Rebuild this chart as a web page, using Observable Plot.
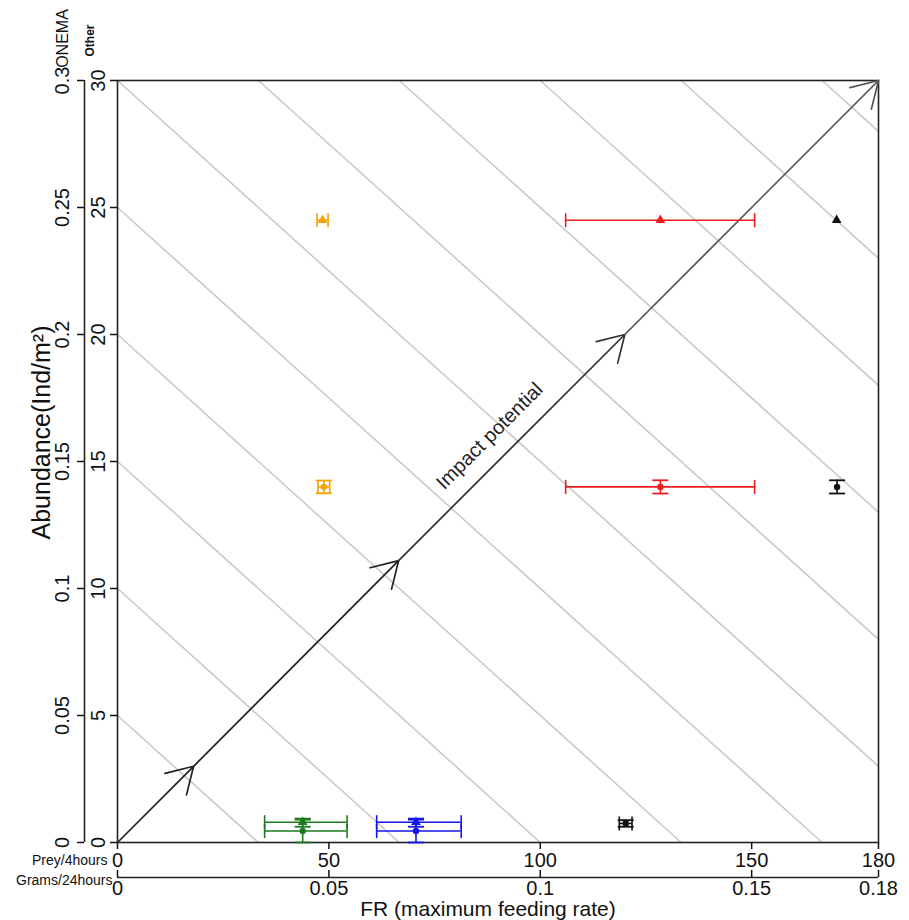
<!DOCTYPE html>
<html><head><meta charset="utf-8">
<script src="https://cdn.jsdelivr.net/npm/d3@7"></script>
<script src="https://cdn.jsdelivr.net/npm/@observablehq/plot@0.6"></script>
<style>body{margin:0;background:#fff}</style>
</head><body><div id="chart"></div>
<script>
// ---- axes / ticks ----
const frDomain = [0, 180];
const abDomain = [0, 30];
const frTicks = [0, 50, 100, 150, 180];
const gramTickLabels = ["0", "0.05", "0.1", "0.15", "0.18"];
const otherTicks = [0, 5, 10, 15, 20, 25, 30];
const onemaTickLabels = ["0", "0.05", "0.1", "0.15", "0.2", "0.25", "0.3"];

// ---- iso "impact" lines (gray diagonals): y = intercept + slope * x ----
const isoIntercepts = [5, 10, 15, 20, 25, 30, 35, 40, 45, 50, 55];
const isoSlope = -0.15;

// ---- impact potential arrow (vertices, arrowheads at each vertex) ----
const arrowFr = [0, 18, 66.5, 120, 180];
const arrowAb = [0, 3, 11.1, 20, 30];
const arrowColor = ["#222", "#222", "#333", "#555"];

// ---- data points ----
const pointFr     = [48.5, 48.8, 128.4, 128.4, 170.1, 170.2, 120.2, 43.8, 43.8, 70.6, 70.6];
const pointFrLow  = [47.2, 47.4, 106.0, 106.0, 170.1, 170.2, 118.7, 34.8, 34.8, 61.3, 61.3];
const pointFrHigh = [49.8, 50.2, 150.7, 150.7, 170.1, 170.2, 121.7, 54.3, 54.3, 81.3, 81.3];
const pointAb     = [24.5, 14.0, 24.5, 14.0, 24.5, 14.0, 0.75, 0.8, 0.45, 0.8, 0.45];
const pointAbLow  = [24.5, 13.75, 24.5, 13.74, 24.5, 13.74, 0.62, 0.62, 0.0, 0.62, 0.0];
const pointAbHigh = [24.5, 14.25, 24.5, 14.26, 24.5, 14.26, 0.88, 0.94, 0.9, 0.94, 0.9];
const pointColor  = ["#f5a300", "#f5a300", "#ee1c1c", "#ee1c1c", "#111", "#111", "#111", "#1d7a1d", "#1d7a1d", "#1515f0", "#1515f0"];
const pointShape  = ["triangle", "circle", "triangle", "circle", "triangle", "circle", "circle", "triangle", "circle", "triangle", "circle"];

// ---- text ----
const xTitle = "FR (maximum feeding rate)";
const yTitle = "Abundance(Ind/m\u00B2)";
const impactLabel = {fr: 88, ab: 16, text: "Impact potential"};

// build tables
const points = pointFr.map((x, i) => ({
  x, xlo: pointFrLow[i], xhi: pointFrHigh[i],
  y: pointAb[i], ylo: pointAbLow[i], yhi: pointAbHigh[i],
  color: pointColor[i], shape: pointShape[i]
}));
const isoLines = isoIntercepts.map(c => {
  const xs = Math.max(frDomain[0], (abDomain[1] - c) / isoSlope);
  const xe = Math.min(frDomain[1], (abDomain[0] - c) / isoSlope);
  return {x1: xs, y1: c + isoSlope * xs, x2: xe, y2: c + isoSlope * xe};
});
const arrowSegs = arrowFr.slice(1).map((x, i) => ({
  x1: arrowFr[i], y1: arrowAb[i], x2: x, y2: arrowAb[i + 1], color: arrowColor[i]
}));

// cap symbols
const vCap = {draw(ctx, size) { const h = Math.sqrt(size / Math.PI); ctx.moveTo(0, -h); ctx.lineTo(0, h); }};
const hCap = {draw(ctx, size) { const h = Math.sqrt(size / Math.PI); ctx.moveTo(-h, 0); ctx.lineTo(h, 0); }};

const hasX = d => d.xhi > d.xlo;
const hasY = d => d.yhi > d.ylo;

const chart = Plot.plot({
  width: 909,
  height: 920,
  marginLeft: 117,
  marginRight: 31,
  marginTop: 80,
  marginBottom: 78,
  x: {domain: frDomain, axis: null},
  y: {domain: abDomain, axis: null},
  style: {fontFamily: "'Liberation Sans Narrow', 'Liberation Sans', Arial, sans-serif", fontSize: "20px", color: "#111", background: "#fff"},
  marks: [
    Plot.link(isoLines, {x1: "x1", y1: "y1", x2: "x2", y2: "y2", stroke: "#c9c9c9", strokeWidth: 1.6}),
    Plot.frame({stroke: "#222", strokeWidth: 1.6}),
    Plot.arrow(arrowSegs, {x1: "x1", y1: "y1", x2: "x2", y2: "y2", stroke: "color", strokeWidth: 1.7, headLength: 26, headAngle: 62, bend: 0}),
    Plot.text([impactLabel], {x: "fr", y: "ab", text: "text", rotate: -45, fontSize: 20, fill: "#222", textAnchor: "middle", lineAnchor: "middle"}),
    // horizontal error bars
    Plot.ruleY(points, {filter: hasX, y: "y", x1: "xlo", x2: "xhi", stroke: "color", strokeWidth: 1.6}),
    Plot.dot(points, {filter: hasX, x: "xlo", y: "y", symbol: vCap, r: 7, stroke: "color", strokeWidth: 1.6}),
    Plot.dot(points, {filter: hasX, x: "xhi", y: "y", symbol: vCap, r: 7, stroke: "color", strokeWidth: 1.6}),
    // vertical error bars
    Plot.ruleX(points, {filter: hasY, x: "x", y1: "ylo", y2: "yhi", stroke: "color", strokeWidth: 1.6}),
    Plot.dot(points, {filter: hasY, x: "x", y: "ylo", symbol: hCap, r: 8, stroke: "color", strokeWidth: 1.8}),
    Plot.dot(points, {filter: hasY, x: "x", y: "yhi", symbol: hCap, r: 8, stroke: "color", strokeWidth: 1.8}),
    // markers
    Plot.dot(points, {filter: d => d.shape === "triangle", x: "x", y: "y", symbol: "triangle", r: 3.6, fill: "color"}),
    Plot.dot(points, {filter: d => d.shape === "circle", x: "x", y: "y", symbol: "circle", r: 3.2, fill: "color"}),
    // inner y axis (Other)
    Plot.axisY(otherTicks, {anchor: "left", tickSize: 7, tickPadding: 6, tickRotate: -90, strokeWidth: 1.5, label: null}),
    // outer y axis (ONEMA)
    Plot.ruleX(frDomain.slice(0, 1), {dx: -33, stroke: "#222", strokeWidth: 1.6}),
    Plot.axisY(otherTicks, {anchor: "left", dx: -33, tickSize: 7, tickPadding: 9, tickRotate: -90, strokeWidth: 1.5, label: null,
      tickFormat: d => onemaTickLabels[otherTicks.indexOf(d)]}),
    // inner x axis (Prey/4hours)
    Plot.axisX(frTicks, {anchor: "bottom", tickSize: 7, strokeWidth: 1.5, label: null}),
    // outer x axis (Grams/24hours)
    Plot.ruleY(abDomain.slice(0, 1), {dy: 35, stroke: "#222", strokeWidth: 1.6}),
    Plot.axisX(frTicks, {anchor: "bottom", dy: 35, tickSize: -7, tickPadding: 10, strokeWidth: 1.5, label: null,
      tickFormat: d => gramTickLabels[frTicks.indexOf(d)]}),
    // axis unit labels
    Plot.text(["Prey/4hours"], {frameAnchor: "bottom-left", dx: -10, dy: 18, textAnchor: "end", lineAnchor: "middle", fontSize: 14, fill: "#111"}),
    Plot.text(["Grams/24hours"], {frameAnchor: "bottom-left", dx: -5, dy: 38, textAnchor: "end", lineAnchor: "middle", fontSize: 14, fill: "#111"}),
    Plot.text(["ONEMA"], {frameAnchor: "top-left", dx: -55, dy: -42, rotate: -90, textAnchor: "middle", lineAnchor: "middle", fontSize: 16, fill: "#111"}),
    Plot.text(["Other"], {frameAnchor: "top-left", dx: -27, dy: -40, rotate: -90, textAnchor: "middle", lineAnchor: "middle", fontSize: 12, fontWeight: "bold", fill: "#111"}),
    // titles
    Plot.text([yTitle], {frameAnchor: "left", dx: -76, dy: -29, rotate: -90, textAnchor: "middle", lineAnchor: "middle", fontSize: 25, fill: "#111"}),
    Plot.text([xTitle], {frameAnchor: "bottom", dx: -10, dy: 67, textAnchor: "middle", lineAnchor: "middle", fontSize: 21, fill: "#111"})
  ]
});
document.getElementById("chart").appendChild(chart);
</script>
</body></html>
